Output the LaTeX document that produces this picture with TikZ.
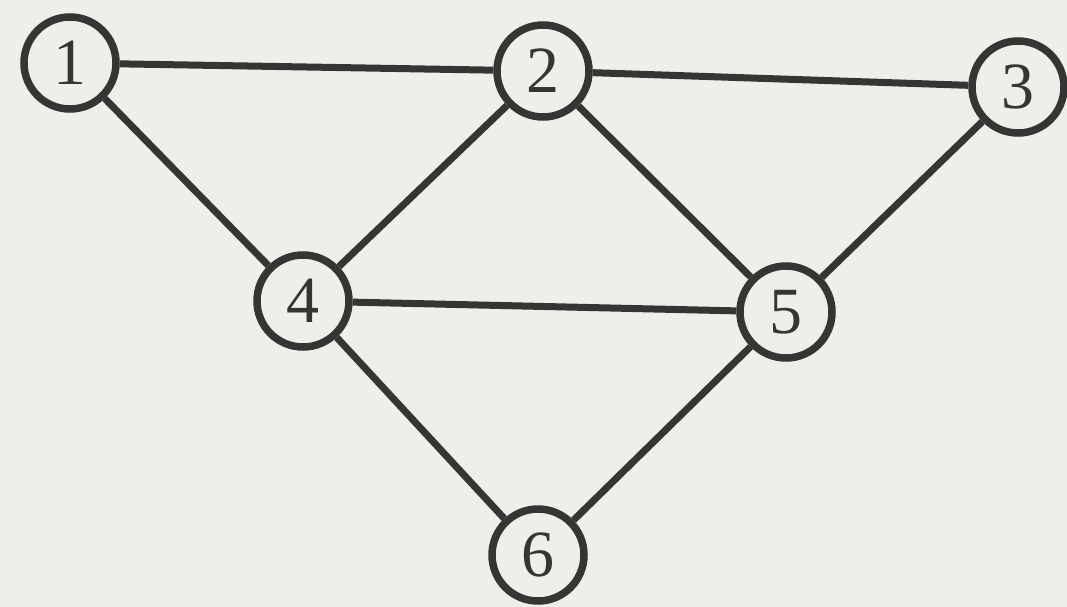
\documentclass[tikz,border=0pt]{standalone}
\usepackage{fontspec}
\setmainfont{Liberation Serif}
\definecolor{paper}{RGB}{240,238,235}
\definecolor{ink}{RGB}{55,53,52}
\begin{document}
\begin{tikzpicture}[x=1pt,y=-1pt,
  vtx/.style={circle,draw=ink,line width=7.5pt,fill=paper,minimum size=92pt,inner sep=0pt,
    text=ink,font=\fontsize{66}{70}\selectfont},
  edge/.style={draw=ink,line width=7pt}]
\fill[paper] (0,0) rectangle (1067,607);
\useasboundingbox (0,0) rectangle (1067,607);
\node[vtx] (n1) at (70,63) {1};
\node[vtx] (n2) at (543,71) {2};
\node[vtx] (n3) at (1018,87) {3};
\node[vtx] (n4) at (303,301) {4};
\node[vtx] (n5) at (786,312) {5};
\node[vtx] (n6) at (538,555) {6};
\draw[edge] (n1) -- (n2);
\draw[edge] (n2) -- (n3);
\draw[edge] (n1) -- (n4);
\draw[edge] (n2) -- (n4);
\draw[edge] (n2) -- (n5);
\draw[edge] (n3) -- (n5);
\draw[edge] (n4) -- (n5);
\draw[edge] (n4) -- (n6);
\draw[edge] (n5) -- (n6);
\end{tikzpicture}
\end{document}
